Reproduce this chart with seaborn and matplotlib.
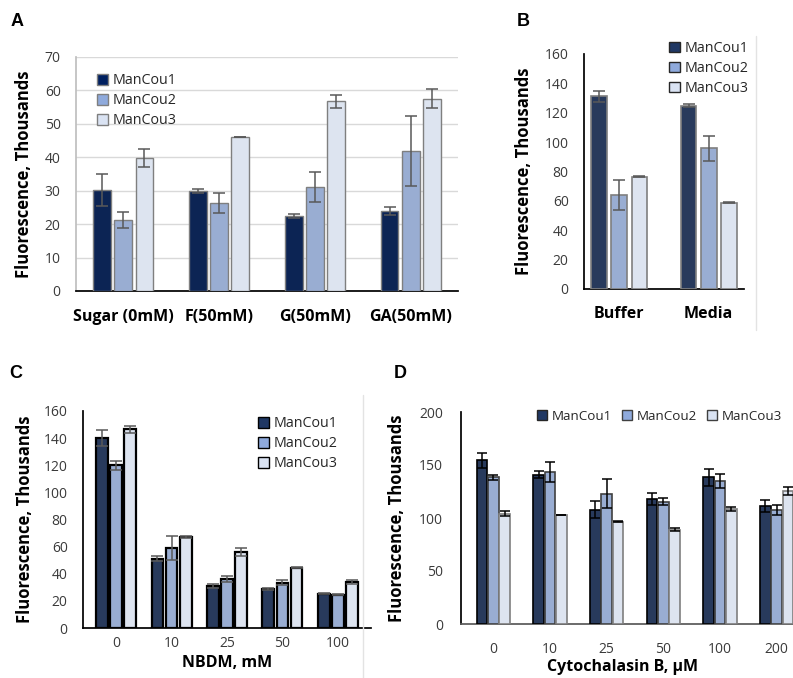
import numpy as np
import pandas as pd
import matplotlib
matplotlib.use("Agg")
import matplotlib.pyplot as plt
import seaborn as sns
from matplotlib.lines import Line2D
from matplotlib.patches import Patch

SERIES = ["ManCou1", "ManCou2", "ManCou3"]

# A: sugar conditions
sugar_labels = ["Sugar (0mM)", "F(50mM)", "G(50mM)", "GA(50mM)"]
sugar_mc1 = [30.3, 29.8, 22.3, 24.0]
sugar_mc2 = [21.2, 26.3, 31.1, 41.9]
sugar_mc3 = [39.7, 46.1, 56.7, 57.5]
sugar_err1 = [4.8, 0.6, 0.6, 1.2]
sugar_err2 = [2.4, 3.0, 4.4, 10.4]
sugar_err3 = [2.7, 0.1, 2.0, 2.8]

# B: buffer vs media
medium_labels = ["Buffer", "Media"]
medium_mc1 = [131.2, 124.8]
medium_mc2 = [64.0, 95.8]
medium_mc3 = [76.5, 58.6]
medium_err1 = [3.8, 1.0]
medium_err2 = [10.0, 8.5]
medium_err3 = [0.3, 0.3]

# C: NBDM titration
nbdm_labels = ["0", "10", "25", "50", "100"]
nbdm_mc1 = [140.3, 51.2, 31.0, 29.0, 25.4]
nbdm_mc2 = [119.9, 59.1, 35.9, 33.5, 24.6]
nbdm_mc3 = [146.5, 67.2, 55.9, 44.6, 34.0]
nbdm_err1 = [6.0, 1.8, 1.6, 0.8, 0.6]
nbdm_err2 = [3.2, 8.7, 2.2, 1.6, 0.6]
nbdm_err3 = [2.6, 0.7, 2.8, 0.5, 1.6]

# D: cytochalasin B titration
cyto_labels = ["0", "10", "25", "50", "100", "200"]
cyto_mc1 = [154.4, 140.9, 107.9, 117.9, 138.4, 111.3]
cyto_mc2 = [138.4, 143.4, 123.0, 115.1, 134.9, 107.5]
cyto_mc3 = [104.1, 102.5, 96.5, 89.0, 108.5, 125.5]
cyto_err1 = [6.8, 3.5, 7.9, 5.8, 7.9, 5.5]
cyto_err2 = [2.4, 9.3, 13.6, 3.3, 6.5, 4.5]
cyto_err3 = [2.3, 0.0, 0.3, 1.5, 1.6, 3.8]

sns.set_theme(style="white")
plt.rcParams["font.family"] = ["Open Sans", "DejaVu Sans"]

W, H = 793, 678
fig = plt.figure(figsize=(W / 100, H / 100), dpi=100)


def px_axes(left, top, right, bottom):
    return fig.add_axes([left / W, 1 - bottom / H, (right - left) / W, (bottom - top) / H])


def long_frame(labels, series_vals):
    rows = []
    for name, vals in zip(SERIES, series_vals):
        for cat, v in zip(labels, vals):
            rows.append({"cat": cat, "series": name, "value": v})
    return pd.DataFrame(rows)


def draw_panel(ax, labels, vals, errs, palette, edges, lw, ecolor, width, gap, capsize):
    df = long_frame(labels, vals)
    sns.barplot(data=df, x="cat", y="value", hue="series", order=labels,
                hue_order=SERIES, palette=palette, width=width, gap=gap,
                errorbar=None, legend=False, ax=ax, zorder=3)
    for cont, ec, err in zip(ax.containers, edges, errs):
        xs, hs = [], []
        for bar in cont:
            bar.set_edgecolor(ec)
            bar.set_linewidth(lw)
            xs.append(bar.get_x() + bar.get_width() / 2)
            hs.append(bar.get_height())
        ax.errorbar(xs, hs, yerr=err, fmt="none", ecolor=ecolor, elinewidth=1.1,
                    capsize=capsize, capthick=1.1, zorder=4)
    ax.set_xlabel("")
    ax.set_ylabel("Fluorescence, Thousands", fontsize=12, fontweight="bold", color="black")
    ax.tick_params(axis="both", length=0, labelsize=10, colors="#3A3A3A")
    for s in ["top", "right"]:
        ax.spines[s].set_visible(False)


def add_legend(ax, palette, edges, anchor, ncol=1, fontsize=10, labelspacing=0.35, colsp=1.0):
    handles = [Patch(facecolor=c, edgecolor=e, linewidth=1.0, label=n)
               for c, e, n in zip(palette, edges, SERIES)]
    ax.legend(handles=handles, loc="upper left", bbox_to_anchor=anchor, frameon=False,
              ncol=ncol, fontsize=fontsize, handlelength=0.75, handleheight=0.75,
              handletextpad=0.35, labelspacing=labelspacing, columnspacing=colsp,
              borderpad=0, borderaxespad=0)


# ---- A ----
axA = px_axes(76, 57, 458, 291)
palA = ["#002060", "#8FAADC", "#DAE3F3"]
edgA = ["#7F7F7F", "#7F7F7F", "#7F7F7F"]
draw_panel(axA, sugar_labels, [sugar_mc1, sugar_mc2, sugar_mc3],
           [sugar_err1, sugar_err2, sugar_err3], palA, edgA, 1.0, "#595959", 0.66, 0.17, 4)
axA.set_ylim(0, 70)
axA.set_yticks(np.arange(0, 71, 10))
axA.yaxis.grid(True, color="#D9D9D9", linewidth=1.0, zorder=0)
axA.set_axisbelow(True)
axA.spines["left"].set_color("#BFBFBF")
axA.spines["bottom"].set_color("black")
axA.tick_params(axis="y", pad=11)
axA.tick_params(axis="x", pad=13, labelsize=11.5)
for t in axA.get_xticklabels():
    t.set_fontweight("bold")
    t.set_color("black")
axA.yaxis.set_label_coords(-0.113, 0.5)
add_legend(axA, palA, edgA, (0.055, 0.93), fontsize=10.3)

# ---- B ----
axB = px_axes(584, 54, 744, 289)
palB = ["#203864", "#8FAADC", "#DAE3F3"]
edgB = ["#7F7F7F", "#7F7F7F", "#7F7F7F"]
draw_panel(axB, medium_labels, [medium_mc1, medium_mc2, medium_mc3],
           [medium_err1, medium_err2, medium_err3], palB, edgB, 1.2, "#595959", 0.675, 0.22, 4)
axB.set_ylim(0, 160)
axB.set_yticks(np.arange(0, 161, 20))
for s in ["left", "bottom"]:
    axB.spines[s].set_color("black")
axB.tick_params(axis="y", pad=11)
axB.tick_params(axis="x", pad=12, labelsize=11.5)
for t in axB.get_xticklabels():
    t.set_fontweight("bold")
    t.set_color("black")
axB.yaxis.set_label_coords(-0.319, 0.5)
add_legend(axB, palB, ["#262626", "#262626", "#262626"], (0.531, 1.055), fontsize=10.3)

# ---- C ----
axC = px_axes(83, 411, 371, 628)
palC = ["#203864", "#8FAADC", "#DAE3F3"]
edgC = ["black", "black", "black"]
draw_panel(axC, nbdm_labels, [nbdm_mc1, nbdm_mc2, nbdm_mc3],
           [nbdm_err1, nbdm_err2, nbdm_err3], palC, edgC, 1.6, "#595959", 0.765, 0.165, 4)
axC.set_ylim(0, 160)
axC.set_yticks(np.arange(0, 161, 20))
for s in ["left", "bottom"]:
    axC.spines[s].set_color("black")
axC.tick_params(axis="y", pad=11)
axC.tick_params(axis="x", pad=6)
axC.set_xlabel("NBDM, mM", fontsize=11.5, fontweight="bold", color="black")
axC.xaxis.set_label_coords(0.5, -0.125)
axC.yaxis.set_label_coords(-0.17, 0.5)
add_legend(axC, palC, edgC, (0.608, 0.975), fontsize=10.3)

# ---- D ----
axD = px_axes(461, 412, 809, 624)
palD = ["#203864", "#8FAADC", "#DAE3F3"]
edgD = ["black", "#404040", "#7F7F7F"]
draw_panel(axD, cyto_labels, [cyto_mc1, cyto_mc2, cyto_mc3],
           [cyto_err1, cyto_err2, cyto_err3], palD, edgD, 1.2, "black", 0.6, 0.08, 3.5)
axD.set_ylim(0, 200)
axD.set_yticks(np.arange(0, 201, 50))
axD.spines["left"].set_color("black")
axD.spines["bottom"].set_color("#595959")
axD.tick_params(axis="y", pad=13)
axD.tick_params(axis="x", pad=13)
axD.set_xlabel("Cytochalasin B, \u00b5M", fontsize=11.5, fontweight="bold", color="black")
axD.xaxis.set_label_coords(0.463, -0.163)
axD.yaxis.set_label_coords(-0.158, 0.5)
add_legend(axD, palD, ["#262626", "#404040", "#404040"], (0.218, 1.01), ncol=3,
           fontsize=9.6, colsp=0.75)

# panel separators
fig.add_artist(Line2D([756 / W, 756 / W], [1 - 36 / H, 1 - 330 / H], color="#E3E3E3", linewidth=1))
fig.add_artist(Line2D([363 / W, 363 / W], [1 - 395 / H, 0], color="#E3E3E3", linewidth=1))

# panel letters
for letter, x, y in [("A", 17, 21), ("B", 523, 21), ("C", 16, 373), ("D", 400, 373)]:
    fig.text(x / W, 1 - y / H, letter, fontsize=13, fontweight="bold",
             family=["Liberation Sans", "DejaVu Sans"], ha="center", va="center", color="black")

fig.savefig("out.png", dpi=100)
